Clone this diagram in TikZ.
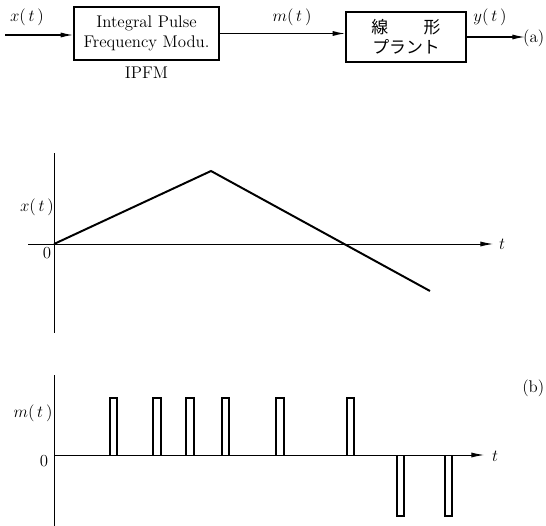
\documentclass[tikz,border=0pt]{standalone}
\usepackage{fontspec}
\newfontfamily\jpfont{Noto Sans CJK JP}
\usetikzlibrary{arrows.meta,positioning,calc}

\begin{document}
\begin{tikzpicture}[x=0.025cm, y=-0.025cm,
  block/.style={draw=black, line width=0.9pt, rectangle, align=center,
    inner sep=0pt, font=\large},
  sig/.style={font=\large},
  ar/.style={-{Latex[length=9pt,width=3.6pt]}, line width=0.9pt},
  axis/.style={-{Latex[length=9pt,width=3.6pt]}, line width=0.6pt},
  yaxis/.style={line width=0.6pt},
  wave/.style={line width=1.4pt, line join=miter},
  pulse/.style={line width=0.9pt},
]
\useasboundingbox (0,0) rectangle (546,526);

%--- (a) block diagram ---
\coordinate (xin) at (5,35);
\node[block, minimum width=3.625cm, minimum height=1.325cm] (ipfm) at (146.5,33.5)
  {Integral Pulse\\Frequency Modu.};
\node[sig, below=1pt of ipfm] (ipfmlab) {IPFM};
\node[block, minimum width=3.0cm, minimum height=1.25cm, font=\large\jpfont] (plant) at (406,37)
  {線\hspace{2.1em}形\\プラント};
\coordinate (yout) at (525,37);

\draw[ar] (xin) -- (xin -| ipfm.west);
\draw[ar] (ipfm.east) -- (ipfm.east -| plant.west);
\draw[ar] (plant.east) -- (yout);

\node[sig] (xlab) at (27,17) {$x(\,t\,)$};
\node[sig] (mlab) at (292,17) {$m(\,t\,)$};
\node[sig] (ylab) at (490,17) {$y(\,t\,)$};
\node[sig, anchor=east, inner sep=1pt] (taga) at (546,38) {(a)};

%--- x(t) plot ---
\coordinate (o1) at (54,244);
\coordinate (xl) at (28,244);
\coordinate (xr) at (493,244);
\coordinate (yt1) at (54,153);
\coordinate (yb1) at (54,333);
\coordinate (peak) at (211,171);
\coordinate (xend) at (430,291);

\draw[axis] (xl) -- (xr);
\draw[yaxis] (yt1) -- (yb1);
\draw[wave] (o1) -- (peak) -- (xend);

\node[sig] (xax) at (37,207) {$x(\,t\,)$};
\node[sig] (zero1) at (47,253) {0};
\node[sig] (t1) at (502,244) {$t$};

%--- m(t) plot ---
\coordinate (o2) at (54,455);
\coordinate (xr2) at (484,455);
\coordinate (yt2) at (54,375);
\coordinate (yb2) at (54,526);

\draw[axis] (o2) -- (xr2);
\draw[yaxis] (yt2) -- (yb2);

% positive pulses
\foreach \a/\b in {110/117, 153/161, 186/194, 222/229, 276/284, 347/354}
  \draw[pulse] (\a,455) -- (\a,398) -- (\b,398) -- (\b,455);
% negative pulses
\foreach \a/\b in {397/404, 445/452}
  \draw[pulse] (\a,455) -- (\a,516) -- (\b,516) -- (\b,455);

\node[sig] (max) at (33,413) {$m(\,t\,)$};
\node[sig] (zero2) at (44,461) {0};
\node[sig] (t2) at (495,456) {$t$};
\node[sig, anchor=east, inner sep=1pt] (tagb) at (546,388) {(b)};

\end{tikzpicture}
\end{document}
